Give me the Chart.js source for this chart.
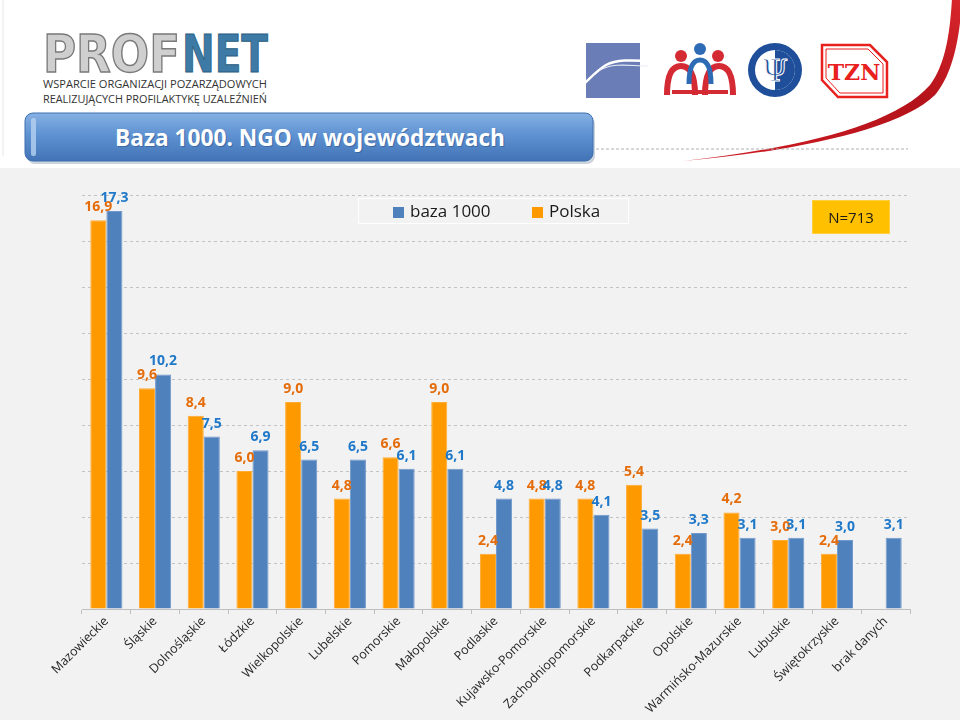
<!DOCTYPE html>
<html>
<head>
<meta charset="utf-8">
<script src="https://cdn.jsdelivr.net/npm/chart.js@4.4.1/dist/chart.umd.min.js"></script>
<style>
	html, body { margin: 0; padding: 0; }
	body { width: 960px; height: 720px; position: relative; overflow: hidden; background: #fff; font-family: 'Open Sans', sans-serif; }
	#header { position: absolute; left: 0; top: 0; }
	#plot { position: absolute; left: 0; top: 168px; width: 960px; height: 552px; background: #f2f2f2; }
	#legend { position: absolute; left: 358px; top: 198px; width: 271px; height: 26px; border: 1px solid #fff; box-sizing: border-box; background: #f2f2f2; }
	#legend .sq { position: absolute; top: 8px; width: 11px; height: 11px; }
	#legend .txt { position: absolute; top: 0; line-height: 24px; font-size: 17px; color: #1a1a1a; white-space: nowrap; }
	#nbox { position: absolute; left: 812px; top: 200px; width: 78px; height: 34px; background: #ffc000; border: 1px solid #ffcf40; box-sizing: border-box; text-align: center; line-height: 32px; font-size: 15px; color: #1a1a1a; }
</style>
</head>
<body>

<svg id="header" width="960" height="168" xmlns="http://www.w3.org/2000/svg">
	<defs>
		<linearGradient id="titleGrad" x1="0" y1="0" x2="0" y2="1">
			<stop offset="0" stop-color="#86b1e3"/>
			<stop offset="0.45" stop-color="#5f92d2"/>
			<stop offset="1" stop-color="#4173b6"/>
		</linearGradient>
		<linearGradient id="swoosh" x1="0" y1="1" x2="1" y2="0">
			<stop offset="0" stop-color="#d41c24"/>
			<stop offset="0.6" stop-color="#b3121a"/>
			<stop offset="1" stop-color="#d8262c"/>
		</linearGradient>
	</defs>

	<line x1="3" y1="0" x2="3" y2="156" stroke="#e6e6e6" stroke-width="1"/>

	<!-- PROFNET logo -->
	<text x="43" y="72" font-family="DejaVu Sans" font-weight="bold" font-size="52" textLength="137" lengthAdjust="spacingAndGlyphs" fill="#cfcfcf" stroke="#7a7a7a" stroke-width="1.5">PROF</text>
	<text x="182" y="72" font-family="DejaVu Sans" font-weight="bold" font-size="52" textLength="86" lengthAdjust="spacingAndGlyphs" fill="#3d7ba6" stroke="#2a5c80" stroke-width="1">NET</text>
	<text x="43" y="88" font-family="Open Sans" font-size="10.5" textLength="224" lengthAdjust="spacingAndGlyphs" fill="#333">WSPARCIE ORGANIZACJI POZARZĄDOWYCH</text>
	<text x="43" y="103" font-family="Open Sans" font-size="10.5" textLength="224" lengthAdjust="spacingAndGlyphs" fill="#333">REALIZUJĄCYCH PROFILAKTYKĘ UZALEŹNIEŃ</text>

	<!-- partner logos -->
	<rect x="586" y="43" width="54" height="55" fill="#6a7db6"/>
	<path d="M567,98 C584,86 594,72 606,65 C620,58 640,61 652,61" fill="none" stroke="#fff" stroke-width="2.5"/>
	<path d="M600,70 C615,62 630,66 648,66" fill="none" stroke="#e8ecf6" stroke-width="1.2"/>

	<circle cx="681" cy="56" r="6" fill="#d42a33"/>
	<circle cx="700" cy="49" r="6" fill="#2d6cb5"/>
	<circle cx="718" cy="56" r="6" fill="#d42a33"/>
	<path d="M667,95 Q667,66 681,66 Q695,66 695,95" fill="none" stroke="#d42a33" stroke-width="6"/>
	<path d="M705,95 Q705,66 719,66 Q733,66 733,95" fill="none" stroke="#d42a33" stroke-width="6"/>
	<path d="M689,84 Q689,60 700,60 Q711,60 711,84" fill="none" stroke="#2d6cb5" stroke-width="5"/>
	<line x1="672" y1="92" x2="728" y2="92" stroke="#d42a33" stroke-width="4"/>

	<circle cx="775" cy="70" r="27" fill="#1f4f9a"/>
	<circle cx="775" cy="70" r="20" fill="#fff"/>
	<path d="M775,50 A20,20 0 0,1 775,90 Z" fill="#1f4f9a"/>
	<text x="775" y="81" text-anchor="middle" font-family="DejaVu Serif" font-size="30" fill="#1f4f9a" stroke="#fff" stroke-width="1">Ψ</text>

	<polygon points="822,45 870,45 887,62 887,97 838,97 822,80" fill="#fff" stroke="#e8201e" stroke-width="2.5"/>
	<polygon points="826,49 868,49 883,64 883,93 840,93 826,78" fill="none" stroke="#e8201e" stroke-width="1"/>
	<text x="854" y="80" text-anchor="middle" font-family="DejaVu Serif" font-weight="bold" font-size="22" fill="#e8201e">TZN</text>

	<!-- red swoosh -->
	<path d="M683,161 C790,152 900,130 935,95 C952,75 960,40 962,-2 L952,-2 C950,35 945,65 930,85 C895,125 800,148 683,161 Z" fill="url(#swoosh)"/>

	<!-- title box -->
	<line x1="596" y1="149" x2="908" y2="149" stroke="#b0b0b0" stroke-width="1" stroke-dasharray="3,2"/>
	<rect x="27" y="116" width="568" height="48" rx="8" fill="#9aa9bd" opacity="0.5"/>
	<rect x="25" y="113" width="568" height="48" rx="8" fill="url(#titleGrad)" stroke="#3f6fae" stroke-width="1"/>
	<rect x="31" y="118" width="5" height="38" rx="2" fill="#b7d1f1" opacity="0.8"/>
	<text x="115" y="146" font-family="Open Sans" font-weight="bold" font-size="23" textLength="390" lengthAdjust="spacingAndGlyphs" fill="#2a4f80" opacity="0.5" transform="translate(1,1)">Baza 1000. NGO w województwach</text>
	<text x="115" y="146" font-family="Open Sans" font-weight="bold" font-size="23" textLength="390" lengthAdjust="spacingAndGlyphs" fill="#fff">Baza 1000. NGO w województwach</text>
</svg>

<div id="plot"><canvas id="myChart" width="960" height="552"></canvas></div>

<div id="legend">
	<div class="sq" style="left:34px;background:#4f81bd"></div>
	<div class="txt" style="left:51px">baza 1000</div>
	<div class="sq" style="left:173px;background:#ff9900"></div>
	<div class="txt" style="left:190px">Polska</div>
</div>
<div id="nbox">N=713</div>

<script>
const categories = [
	'Mazowieckie', 'Śląskie', 'Dolnośląskie', 'Łódzkie', 'Wielkopolskie', 'Lubelskie',
	'Pomorskie', 'Małopolskie', 'Podlaskie', 'Kujawsko-Pomorskie', 'Zachodniopomorskie',
	'Podkarpackie', 'Opolskie', 'Warmińsko-Mazurskie', 'Lubuskie', 'Świętokrzyskie', 'brak danych'
]
const polska = [16.9, 9.6, 8.4, 6.0, 9.0, 4.8, 6.6, 9.0, 2.4, 4.8, 4.8, 5.4, 2.4, 4.2, 3.0, 2.4, null]
const baza1000 = [17.3, 10.2, 7.5, 6.9, 6.5, 6.5, 6.1, 6.1, 4.8, 4.8, 4.1, 3.5, 3.3, 3.1, 3.1, 3.0, 3.1]
const yMax = 18
const yStep = 2

Chart.defaults.font.family = "'Open Sans', sans-serif"

const valueLabels = {
	id: 'valueLabels',
	afterDatasetsDraw(chart) {
		const ctx = chart.ctx
		ctx.save()
		ctx.font = "bold 14px 'Open Sans', sans-serif"
		ctx.textAlign = 'center'
		ctx.textBaseline = 'alphabetic'
		chart.data.datasets.forEach((dataset, i) => {
			const meta = chart.getDatasetMeta(i)
			ctx.fillStyle = dataset.labelColor
			meta.data.forEach((bar, j) => {
				const v = dataset.data[j]
				if (v === null) return
				// polish decimal comma
				ctx.fillText(v.toFixed(1).replace('.', ','), bar.x, bar.y - 9)
			})
		})
		ctx.restore()
	}
}

new Chart(document.getElementById('myChart'), {
	type: 'bar',
	data: {
		labels: categories,
		datasets: [
			{
				label: 'Polska',
				data: polska,
				backgroundColor: '#ff9900',
				borderColor: '#ffac33',
				borderWidth: 1,
				labelColor: '#e46c0a'
			},
			{
				label: 'baza 1000',
				data: baza1000,
				backgroundColor: '#4f81bd',
				borderColor: '#7299cb',
				borderWidth: 1,
				labelColor: '#1f78c8'
			}
		]
	},
	options: {
		responsive: false,
		animation: false,
		devicePixelRatio: 1,
		datasets: {
			bar: { categoryPercentage: 0.66, barPercentage: 1 }
		},
		layout: {
			padding: { left: 82, right: 50, top: 27, bottom: 0 }
		},
		plugins: {
			legend: { display: false },
			tooltip: { enabled: false }
		},
		scales: {
			x: {
				grid: { drawOnChartArea: false, drawTicks: true, tickLength: 5, color: '#bfbfbf', offset: true },
				border: { color: '#bfbfbf', width: 1 },
				ticks: {
					autoSkip: false,
					minRotation: 45,
					maxRotation: 45,
					padding: 0,
					color: '#262626',
					font: { size: 12.5 }
				},
				afterFit(scale) { scale.height = 111 }
			},
			y: {
				min: 0,
				max: yMax,
				ticks: { display: false, stepSize: yStep },
				grid: { color: '#c3c3c3', lineWidth: 1, drawTicks: false },
				border: { display: false, dash: [3, 3] },
				afterFit(scale) { scale.width = 0 }
			}
		}
	},
	plugins: [valueLabels]
})
</script>
</body>
</html>
